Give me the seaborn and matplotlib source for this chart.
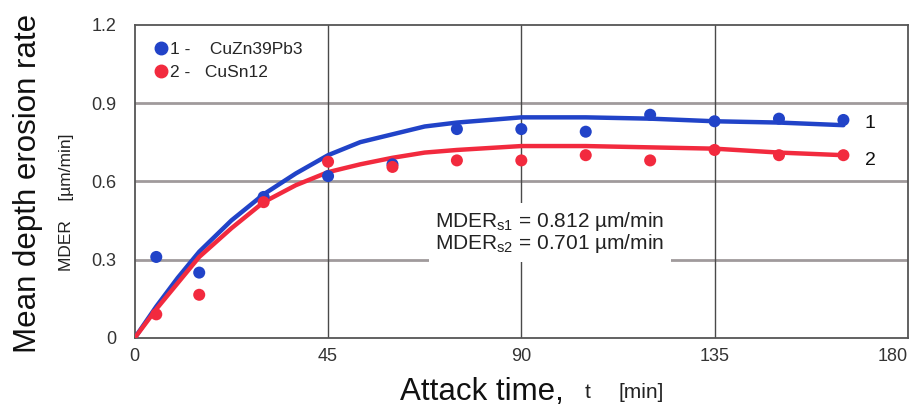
import matplotlib
matplotlib.use("Agg")
import matplotlib.pyplot as plt
import seaborn as sns
import pandas as pd
from matplotlib.lines import Line2D

# measured points
t_points = [5, 15, 30, 45, 60, 75, 90, 105, 120, 135, 150, 165]
s1_points = [0.31, 0.25, 0.54, 0.62, 0.665, 0.80, 0.80, 0.79, 0.855, 0.83, 0.84, 0.835]
s2_points = [0.09, 0.165, 0.52, 0.675, 0.655, 0.68, 0.68, 0.70, 0.68, 0.72, 0.70, 0.70]

# fitted curves
t_curve = [0, 5, 10, 15, 22.5, 30, 37.5, 45, 52.5, 60, 67.5, 75, 90, 105, 120, 135, 150, 165]
s1_curve = [0, 0.12, 0.23, 0.33, 0.45, 0.55, 0.63, 0.70, 0.75, 0.78, 0.81, 0.825, 0.845, 0.845, 0.84, 0.83, 0.825, 0.815]
s2_curve = [0, 0.11, 0.21, 0.31, 0.42, 0.52, 0.585, 0.635, 0.665, 0.69, 0.71, 0.72, 0.735, 0.735, 0.73, 0.725, 0.71, 0.70]

x_ticks = [0, 45, 90, 135, 180]
y_ticks = [0, 0.3, 0.6, 0.9, 1.2]
y_tick_labels = ["0", "0.3", "0.6", "0.9", "1.2"]
series_names = ["1 -    CuZn39Pb3", "2 -   CuSn12"]

BLUE = "#2143c8"
RED = "#f22a3e"

sns.set_theme(style="white")
plt.rcParams["font.family"] = ["Liberation Sans", "DejaVu Sans"]
plt.rcParams["mathtext.fontset"] = "custom"
plt.rcParams["mathtext.rm"] = "Liberation Sans"

fig = plt.figure(figsize=(9.17, 4.12), dpi=100)
ax = fig.add_axes([0.147, 0.180, 0.843, 0.760])

# grid
for yv in [0.3, 0.6, 0.9]:
    ax.axhline(yv, color="#a09a9c", lw=2.0, zorder=0)
for xv in [45, 90, 135]:
    ax.axvline(xv, color="#4a4a4a", lw=1.0, zorder=0)

curves = pd.DataFrame({"t": t_curve + t_curve,
                       "v": s1_curve + s2_curve,
                       "s": ["1"] * len(t_curve) + ["2"] * len(t_curve)})
pts = pd.DataFrame({"t": t_points + t_points,
                    "v": s1_points + s2_points,
                    "s": ["1"] * len(t_points) + ["2"] * len(t_points)})

sns.lineplot(data=curves, x="t", y="v", hue="s", palette={"1": BLUE, "2": RED},
             lw=3.2, legend=False, ax=ax, zorder=3, sort=True)
sns.scatterplot(data=pts, x="t", y="v", hue="s", palette={"1": BLUE, "2": RED},
                s=75, edgecolor="none", legend=False, ax=ax, zorder=4)

ax.set_xlim(0, 180)
ax.set_ylim(0, 1.2)
ax.set_xticks(x_ticks)
ax.set_yticks(y_ticks)
ax.set_yticklabels(y_tick_labels)
ax.tick_params(axis="both", length=0, labelsize=13, labelcolor="#333333")
ax.tick_params(axis="y", pad=13)
ax.tick_params(axis="x", pad=7)
ax.get_xticklabels()[-1].set_horizontalalignment("right")
ax.set_xlabel("")
ax.set_ylabel("")
for sp in ax.spines.values():
    sp.set_color("#555555")
    sp.set_linewidth(1.3)

# legend
handles = [Line2D([], [], marker="o", ls="none", color=BLUE, markersize=9),
           Line2D([], [], marker="o", ls="none", color=RED, markersize=9)]
ax.legend(handles, series_names, loc="upper left", frameon=False, fontsize=12.5,
          handletextpad=0.0, borderpad=0.5, labelspacing=0.45, handlelength=1.0,
          bbox_to_anchor=(0.0, 1.0))

# curve labels
ax.text(170, 0.82, "1", fontsize=14, va="center", ha="left", color="#111111")
ax.text(170, 0.68, "2", fontsize=14, va="center", ha="left", color="#111111")

# annotation
ax.text(70.0, 0.405, "MDER$_{\\mathrm{s1}}$ = 0.812 µm/min\nMDER$_{\\mathrm{s2}}$ = 0.701 µm/min",
        fontsize=15, va="center", ha="left", color="#222222", linespacing=0.95,
        bbox=dict(facecolor="white", edgecolor="none", pad=5), zorder=5)

# axis labels
fig.text(0.030, 0.555, "Mean depth erosion rate", rotation=90, fontsize=22.5,
         ha="center", va="center", color="#111111")
fig.text(0.073, 0.51, "MDER    [µm/min]", rotation=90, fontsize=12.5,
         ha="center", va="center", color="#222222")
fig.text(0.436, 0.048, "Attack time,", fontsize=22.5, ha="left", va="center", color="#111111")
fig.text(0.638, 0.048, "t", fontsize=15, ha="left", va="center", color="#222222")
fig.text(0.674, 0.048, "[min]", fontsize=15, ha="left", va="center", color="#222222")

fig.savefig("out.png", dpi=100)
